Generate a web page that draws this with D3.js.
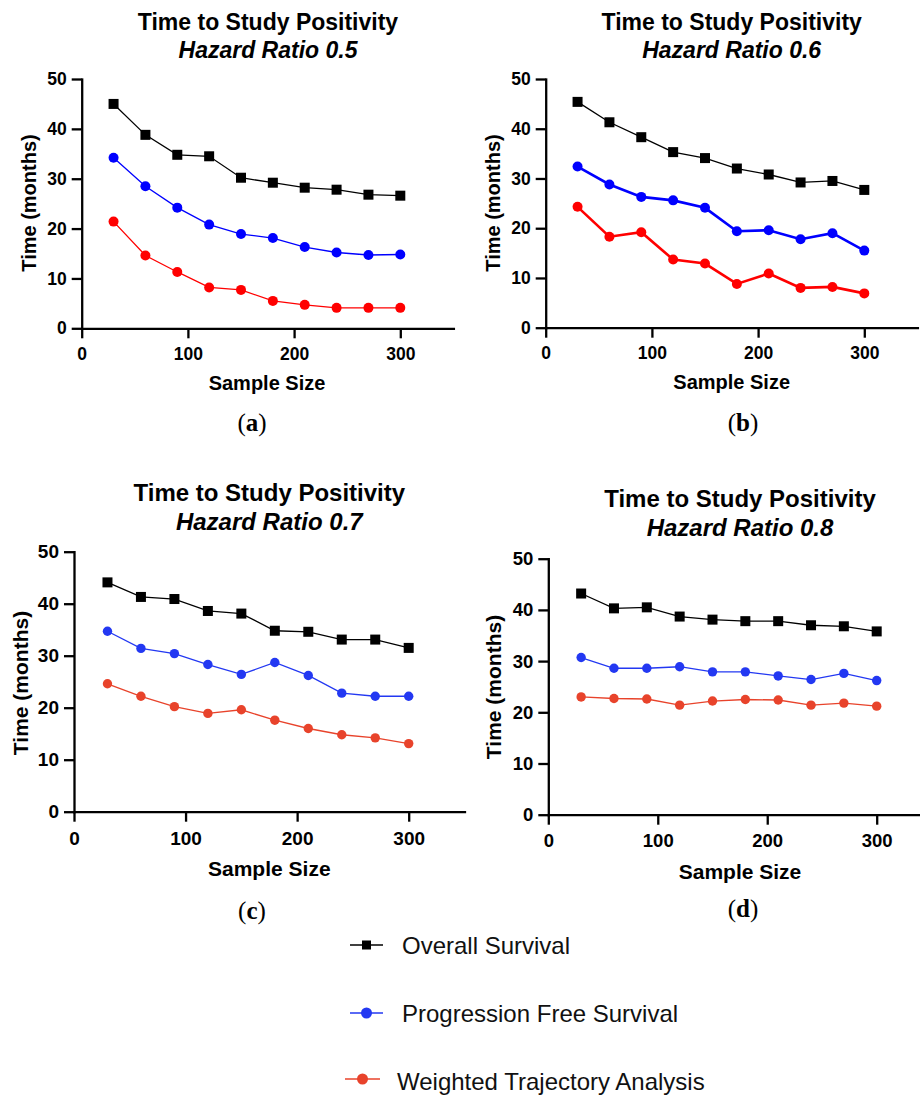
<!DOCTYPE html>
<html><head><meta charset="utf-8">
<script src="https://cdn.jsdelivr.net/npm/d3@7"></script>
<style>body{margin:0;background:#fff}svg{display:block;font-family:Arial,"Liberation Sans",sans-serif}</style>
</head><body>
<svg id="c" width="920" height="1097"></svg>
<script>
// ---- data ----
const sampleSizes = [30, 60, 90, 120, 150, 180, 210, 240, 270, 300];
const xTicks = [0, 100, 200, 300];
const yTicks = [0, 10, 20, 30, 40, 50];
const hazardRatios = ["0.5", "0.6", "0.7", "0.8"];
const captions = ["a", "b", "c", "d"];
const seriesNames = ["Overall Survival", "Progression Free Survival", "Weighted Trajectory Analysis"];

const osA  = [45.0, 38.8, 34.8, 34.5, 30.2, 29.2, 28.2, 27.8, 26.8, 26.6];
const pfsA = [34.2, 28.5, 24.2, 20.8, 18.9, 18.1, 16.3, 15.2, 14.7, 14.8];
const wtaA = [21.4, 14.6, 11.3, 8.2, 7.7, 5.5, 4.7, 4.1, 4.1, 4.1];

const osB  = [45.4, 41.3, 38.3, 35.3, 34.1, 32.0, 30.8, 29.2, 29.5, 27.7];
const pfsB = [32.4, 28.8, 26.3, 25.6, 24.1, 19.4, 19.6, 17.8, 19.0, 15.5];
const wtaB = [24.3, 18.3, 19.2, 13.7, 12.9, 8.8, 10.9, 8.0, 8.2, 6.9];

const osC  = [44.1, 41.3, 40.9, 38.6, 38.1, 34.8, 34.6, 33.1, 33.1, 31.5];
const pfsC = [34.7, 31.4, 30.4, 28.3, 26.4, 28.7, 26.2, 22.8, 22.2, 22.2];
const wtaC = [24.6, 22.2, 20.2, 18.9, 19.6, 17.6, 16.0, 14.8, 14.2, 13.1];

const osD  = [43.2, 40.3, 40.5, 38.7, 38.1, 37.8, 37.8, 37.0, 36.8, 35.8];
const pfsD = [30.7, 28.6, 28.6, 28.9, 27.9, 27.9, 27.1, 26.4, 27.6, 26.2];
const wtaD = [23.0, 22.7, 22.6, 21.4, 22.2, 22.5, 22.4, 21.4, 21.8, 21.2];

const panelSeries = [[osA, pfsA, wtaA], [osB, pfsB, wtaB], [osC, pfsC, wtaC], [osD, pfsD, wtaD]];

// ---- layout / style ----
const colorsAB = ["#000000", "#0000ff", "#ff0000"];
const colorsCD = ["#000000", "#2338f2", "#e8432b"];
const layout = [
  {x0: 81.7, x300: 400.3, yTop: 79, yBot: 328.3, xEnd: 350, tcx: 268, t1: 22, t2: 50, ylx: 29, yly: 203, xlx: 267, xly: 383, capx: 252, capy: 422,
   fsT: 23, fsA: 20, fsK: 17.5, colors: colorsAB, lw: [1.3, 1.3, 1.3], r: 5, sq: 10},
  {x0: 545.7, x300: 864.3, yTop: 79, yBot: 327.7, xEnd: 350, tcx: 731.7, t1: 22, t2: 50, ylx: 493, yly: 203, xlx: 731.7, xly: 382, capx: 743, capy: 422,
   fsT: 23, fsA: 20, fsK: 17.5, colors: colorsAB, lw: [1.3, 2.6, 2.6], r: 5, sq: 10},
  {x0: 74, x300: 408.7, yTop: 551.7, yBot: 811.7, xEnd: 350, tcx: 269.3, t1: 492, t2: 521, ylx: 20, yly: 683, xlx: 269.3, xly: 868, capx: 252, capy: 910,
   fsT: 24, fsA: 21, fsK: 19, colors: colorsCD, lw: [1.3, 1.3, 1.3], r: 4.7, sq: 10},
  {x0: 548.3, x300: 876.7, yTop: 558.7, yBot: 814.7, xEnd: 350, tcx: 740, t1: 498.5, t2: 527, ylx: 493, yly: 687, xlx: 740, xly: 871.5, capx: 743, capy: 908,
   fsT: 24, fsA: 21, fsK: 18.5, colors: colorsCD, lw: [1.3, 1.3, 1.3], r: 4.7, sq: 10}
];

const svg = d3.select("#c");

layout.forEach((L, i) => {
  const g = svg.append("g");
  const pxPerUnit = (L.x300 - L.x0) / 300;
  const x = d3.scaleLinear().domain([0, L.xEnd]).range([L.x0, L.x0 + pxPerUnit * L.xEnd]);
  const y = d3.scaleLinear().domain([0, 50]).range([L.yBot, L.yTop]);

  // titles
  g.append("text").attr("x", L.tcx).attr("y", L.t1).attr("text-anchor", "middle").attr("dominant-baseline", "central")
    .attr("font-size", L.fsT).attr("font-weight", "bold").text("Time to Study Positivity");
  g.append("text").attr("x", L.tcx).attr("y", L.t2).attr("text-anchor", "middle").attr("dominant-baseline", "central")
    .attr("font-size", L.fsT).attr("font-weight", "bold").attr("font-style", "italic").text("Hazard Ratio " + hazardRatios[i]);

  // axes
  const xAxis = d3.axisBottom(x).tickValues(xTicks).tickSizeInner(10).tickSizeOuter(0).tickPadding(6).tickFormat(d3.format("d"));
  const yAxis = d3.axisLeft(y).tickValues(yTicks).tickSizeInner(10).tickSizeOuter(0).tickPadding(5).tickFormat(d3.format("d"));
  const gx = g.append("g").attr("transform", `translate(0,${L.yBot})`).call(xAxis);
  const gy = g.append("g").attr("transform", `translate(${L.x0},0)`).call(yAxis);
  [gx, gy].forEach(a => {
    a.selectAll("path.domain").attr("stroke", "#000").attr("stroke-width", 2.3).attr("stroke-linecap", "square");
    a.selectAll(".tick line").attr("stroke", "#000").attr("stroke-width", 2.3);
    a.selectAll(".tick text").attr("fill", "#000").attr("font-size", L.fsK).attr("font-weight", "bold")
      .attr("font-family", "Arial,'Liberation Sans',sans-serif");
  });
  gx.selectAll(".tick text").attr("dy", "0.9em");

  // axis titles
  g.append("text").attr("transform", `translate(${L.ylx},${L.yly}) rotate(-90)`).attr("text-anchor", "middle")
    .attr("dominant-baseline", "central").attr("font-size", L.fsA).attr("font-weight", "bold").text("Time (months)");
  g.append("text").attr("x", L.xlx).attr("y", L.xly).attr("text-anchor", "middle").attr("dominant-baseline", "central")
    .attr("font-size", L.fsA).attr("font-weight", "bold").text("Sample Size");

  // caption
  const cap = g.append("text").attr("x", L.capx).attr("y", L.capy).attr("text-anchor", "middle").attr("dominant-baseline", "central")
    .attr("font-size", 25).attr("font-family", "'Liberation Serif','DejaVu Serif',serif");
  cap.append("tspan").text("(");
  cap.append("tspan").attr("font-weight", "bold").text(captions[i]);
  cap.append("tspan").text(")");

  // series
  const line = d3.line().x((d, j) => x(sampleSizes[j])).y(d => y(d));
  panelSeries[i].forEach((vals, s) => {
    const col = L.colors[s];
    g.append("path").datum(vals).attr("d", line).attr("fill", "none").attr("stroke", col).attr("stroke-width", L.lw[s]);
    if (s === 0) {
      g.selectAll(null).data(vals).enter().append("rect")
        .attr("x", (d, j) => x(sampleSizes[j]) - L.sq / 2).attr("y", d => y(d) - L.sq / 2)
        .attr("width", L.sq).attr("height", L.sq).attr("fill", col);
    } else {
      g.selectAll(null).data(vals).enter().append("circle")
        .attr("cx", (d, j) => x(sampleSizes[j])).attr("cy", d => y(d)).attr("r", L.r).attr("fill", col);
    }
  });
});

// legend
const legendRows = [
  {y: 945, x1: 350, x2: 383, mx: 366.5, tx: 402, ty: 945},
  {y: 1013, x1: 350, x2: 383, mx: 366.5, tx: 402, ty: 1013},
  {y: 1079, x1: 345, x2: 380, mx: 362.5, tx: 397, ty: 1081}
];
const lg = svg.append("g");
seriesNames.forEach((name, s) => {
  const R = legendRows[s];
  const col = colorsCD[s];
  lg.append("line").attr("x1", R.x1).attr("x2", R.x2).attr("y1", R.y).attr("y2", R.y).attr("stroke", col).attr("stroke-width", 1.7);
  if (s === 0) {
    lg.append("rect").attr("x", R.mx - 4.5).attr("y", R.y - 4.5).attr("width", 9).attr("height", 9).attr("fill", col);
  } else {
    lg.append("circle").attr("cx", R.mx).attr("cy", R.y).attr("r", 5.5).attr("fill", col);
  }
  lg.append("text").attr("x", R.tx).attr("y", R.ty).attr("dominant-baseline", "central").attr("font-size", 24).attr("fill", "#111").text(name);
});
</script>
</body></html>
